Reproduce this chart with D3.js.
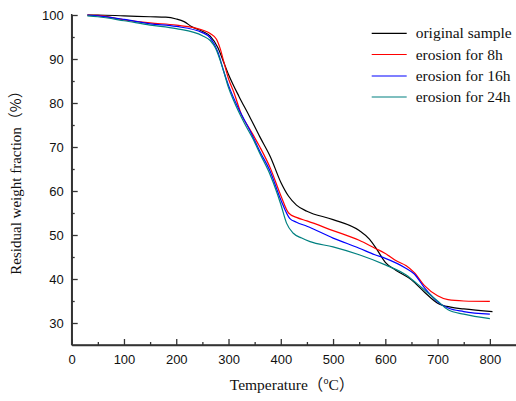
<!DOCTYPE html>
<html><head><meta charset="utf-8">
<script src="https://cdn.jsdelivr.net/npm/d3@7"></script>
<style>body{margin:0;background:#fff}svg{display:block}</style>
</head><body>
<svg id="c" width="516" height="401"></svg>
<script>
const seriesNames = ["original sample","erosion for 8h","erosion for 16h","erosion for 24h"];
const seriesColors = ["#000000","#ff0000","#0000ff","#008080"];
const xTicks = [0,100,200,300,400,500,600,700,800];
const yTicks = [30,40,50,60,70,80,90,100];

const originalT = [30,50,100,150,180,200,215,230,250,265,280,290,300,320,340,360,380,400,415,430,450,500,550,570,585,600,620,650,675,700,725,750,805];
const originalW = [100,100,99.8,99.6,99.5,99.1,98.5,97.3,96.3,95.2,92.5,89.5,86.5,81.5,77,72.3,67.8,62,58.8,56.8,55.4,53.5,51,49,46.5,43.8,42,39.8,37,34.5,33.6,33.2,32.6];

const e8T = [30,50,100,150,200,250,265,277,285,290,300,310,325,340,360,380,400,415,430,450,500,550,580,600,620,640,655,675,700,720,750,800];
const e8W = [100,99.9,98.9,98.2,97.7,96.6,95.8,94.5,92,89.8,85.5,82.5,77.3,74.2,70,65.2,59,55,54,53.2,51,48.8,47,45.8,44.2,43,41.5,38.5,36.2,35.3,35,34.9];

const e16T = [30,50,100,150,200,250,265,280,290,300,320,340,360,380,400,417,430,450,500,550,580,600,640,655,675,690,700,720,750,800];
const e16W = [100,99.8,99,98,97.4,96,94.8,91.5,87.5,84,78.5,74,69,64.4,58,53.8,52.9,52,49.3,47,45.5,44.7,42.4,41.2,38,36,34.8,33.4,32.6,32];

const e24T = [30,50,100,150,200,250,265,275,290,300,310,330,347,360,380,400,411,424,440,456,500,550,600,640,660,680,700,720,750,800];
const e24W = [99.8,99.6,98.7,97.7,96.9,95.3,94.2,92.5,87.5,83.5,80.5,75.5,71.8,68.5,63.6,57,52.7,50.4,49.3,48.5,47.3,45.5,43.2,40.9,39,37,35,33,32,31];

const allT = [originalT,e8T,e16T,e24T];
const allW = [originalW,e8W,e16W,e24W];

const svg = d3.select("#c");
const x = d3.scaleLinear().domain([0,850]).range([71.7,516]);
const y = d3.scaleLinear().domain([25,100]).range([345,15]);
const axisColor = "#333";
const serif = "'Liberation Serif', 'Times New Roman', serif";

// curves
const line = d3.line().x(d=>x(d[0])).y(d=>y(d[1])).curve(d3.curveMonotoneX);
allT.forEach((T,i)=>{
  const pts = T.map((t,j)=>[t,allW[i][j]]);
  svg.append("path").attr("d",line(pts)).attr("fill","none")
     .attr("stroke",seriesColors[i]).attr("stroke-width",1.2);
});

// axes
const xAxis = svg.append("g").attr("transform","translate(0,345)");
xAxis.call(d3.axisBottom(x).tickValues(xTicks).tickSizeInner(-6).tickSizeOuter(0).tickPadding(10).tickFormat(d3.format("d")));
const xMinor = svg.append("g").attr("transform","translate(0,345)");
xMinor.call(d3.axisBottom(x).tickValues([50,150,250,350,450,550,650,750]).tickSizeInner(-3).tickSizeOuter(0).tickFormat(""));
const yAxis = svg.append("g").attr("transform","translate(71.7,0)");
yAxis.call(d3.axisLeft(y).tickValues(yTicks).tickSizeInner(-6).tickSizeOuter(0).tickPadding(8).tickFormat(d3.format("d")));
const yMinor = svg.append("g").attr("transform","translate(71.7,0)");
yMinor.call(d3.axisLeft(y).tickValues([35,45,55,65,75,85,95]).tickSizeInner(-3).tickSizeOuter(0).tickFormat(""));
[xAxis,xMinor,yAxis,yMinor].forEach(g=>{
  g.select(".domain").attr("stroke",axisColor).attr("stroke-width",1.5);
  g.selectAll(".tick line").attr("stroke",axisColor).attr("stroke-width",1.3);
  g.selectAll(".tick text").attr("fill","#111").attr("font-family","'Liberation Sans', Arial, sans-serif").attr("font-size",13);
});
yAxis.select(".domain").attr("d","M0,14V345");
xAxis.select(".domain").attr("d","M71.7,0H516");

// titles
const tx = svg.append("text").attr("x",292).attr("y",390).attr("text-anchor","middle")
  .attr("font-family",serif).attr("font-size",15.5).attr("fill","#111");
tx.append("tspan").text("Temperature");
tx.append("tspan").attr("font-family","'Noto Sans CJK SC'").text("（");
tx.append("tspan").attr("font-size",10).attr("dy",-6).text("o");
tx.append("tspan").attr("dy",6).text("C");
tx.append("tspan").attr("font-family","'Noto Sans CJK SC'").text("）");

const ty = svg.append("text").attr("transform","translate(21,179) rotate(-90)").attr("text-anchor","middle")
  .attr("font-family",serif).attr("font-size",15).attr("fill","#111");
ty.append("tspan").text("Residual weight fraction");
ty.append("tspan").attr("font-family","'Noto Sans CJK SC'").text("（%）");

// legend
const legY = [33.3,54.5,76,97];
seriesNames.forEach((n,i)=>{
  svg.append("line").attr("x1",371.7).attr("x2",406.7).attr("y1",legY[i]).attr("y2",legY[i])
    .attr("stroke",seriesColors[i]).attr("stroke-width",1.2);
  svg.append("text").attr("x",415.7).attr("y",legY[i]+5).text(n)
    .attr("font-family",serif).attr("font-size",15.5).attr("fill","#111");
});
</script>
</body></html>
